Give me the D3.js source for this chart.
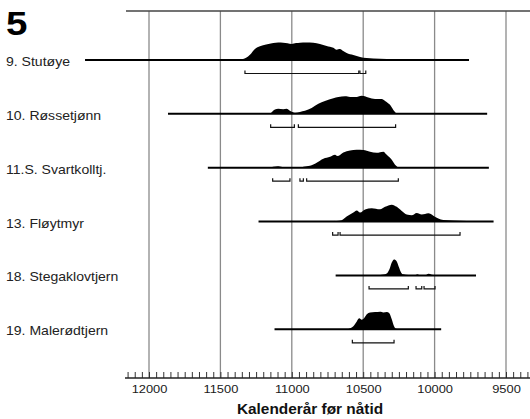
<!DOCTYPE html>
<html>
<head>
<meta charset="utf-8">
<script src="https://cdn.jsdelivr.net/npm/d3@7"></script>
<style>
  html, body { margin: 0; padding: 0; background: #fff; }
  svg { display: block; }
  text { font-family: "Liberation Sans", Arial, Helvetica, sans-serif; }
</style>
</head>
<body>
<svg id="chart" width="530" height="419"></svg>
<script>
// ---------------- DATA ----------------
const panelLabel = "5";
const xTitle = "Kalenderår før nåtid";
const sites = ["9. Stutøye", "10. Røssetjønn", "11.S. Svartkolltj.", "13. Fløytmyr", "18. Stegaklovtjern", "19. Malerødtjern"];
const majorTicks = [12000, 11500, 11000, 10500, 10000, 9500];
const minorTickRange = [12150, 9300, 50];

// full extent of each calibration baseline (cal BP)
const extents = [
  [12448, 9759],
  [11867, 9632],
  [11588, 9620],
  [11233, 9587],
  [10693, 9710],
  [11121, 9954]
];

// probability distributions [cal BP, relative probability]
const dens0 = [[11400,0],[11350,0.04],[11320,0.12],[11293,0.29],[11258,0.61],[11223,0.76],[11180,0.86],[11130,0.94],[11095,0.97],[11060,0.96],[11030,0.93],[11001,0.89],[10970,0.94],[10943,0.96],[10900,0.97],[10849,0.96],[10803,0.89],[10756,0.78],[10709,0.68],[10686,0.57],[10663,0.61],[10640,0.5],[10616,0.39],[10569,0.28],[10522,0.17],[10476,0.11],[10382,0.07],[10289,0.04],[10195,0]];
const dens1 = [[11170,0],[11153,0.02],[11118,0.24],[11095,0.28],[11060,0.26],[11036,0.28],[11013,0.17],[10978,0.06],[10943,0.11],[10908,0.17],[10861,0.33],[10814,0.56],[10768,0.72],[10709,0.87],[10674,0.93],[10627,0.98],[10592,0.94],[10546,0.94],[10511,1.0],[10464,0.91],[10417,0.83],[10370,0.83],[10347,0.72],[10312,0.5],[10289,0.22],[10265,0.03],[10242,0]];
const dens2 = [[11150,0],[11132,0.05],[11100,0.08],[11083,0.07],[11050,0.02],[11000,0.02],[10943,0.02],[10919,0.06],[10873,0.11],[10826,0.28],[10779,0.5],[10732,0.61],[10697,0.72],[10681,0.65],[10639,0.85],[10592,0.96],[10546,1.0],[10499,0.98],[10452,0.89],[10405,0.83],[10359,0.89],[10335,0.72],[10300,0.44],[10277,0.17],[10254,0.03],[10230,0]];
const dens3 = [[10740,0],[10721,0.02],[10651,0.08],[10616,0.28],[10569,0.5],[10545,0.61],[10522,0.5],[10487,0.67],[10440,0.74],[10382,0.68],[10347,0.82],[10300,0.94],[10265,0.82],[10230,0.59],[10195,0.39],[10160,0.35],[10125,0.48],[10090,0.39],[10044,0.46],[10009,0.33],[9974,0.17],[9939,0.09],[9869,0.06],[9775,0.03],[9705,0]];
const dens4 = [[10400,0],[10382,0.02],[10335,0.11],[10317,0.33],[10300,0.72],[10284,0.89],[10265,0.78],[10249,0.44],[10235,0.17],[10219,0.06],[10184,0.02],[10137,0.02],[10121,0.07],[10102,0.02],[10060,0.03],[10044,0.09],[10020,0.04],[9997,0.02],[9974,0]];
const dens5 = [[10620,0],[10604,0.02],[10569,0.17],[10545,0.44],[10527,0.61],[10510,0.53],[10494,0.61],[10475,0.83],[10452,0.94],[10417,0.96],[10382,0.98],[10359,0.94],[10335,0.96],[10317,0.89],[10300,0.56],[10284,0.17],[10270,0.03],[10254,0]];
const densities = [dens0, dens1, dens2, dens3, dens4, dens5];

// 2-sigma ranges [from, to] cal BP
const ranges = [
  [[11328,10531],[10523,10482]],
  [[11148,10982],[10954,10273]],
  [[11134,11013],[10943,10919],[10896,10254]],
  [[10714,10676],[10662,9822]],
  [[10459,10184],[10130,10090],[10074,9997]],
  [[10576,10284]]
];

// ---------------- LAYOUT ----------------
const W = 530, H = 419;
const frameLeft = 126, frameRight = 530, topY = 11, axisY = 378;
const svg = d3.select("#chart");

const x = d3.scaleLinear().domain([12000, 9500]).range([149, 506]);
const row = d3.scalePoint().domain(sites).range([60, 329.3]);
const dy = d3.scaleLinear().domain([0, 1]).range([0, 18]);
const bracketOffset = 13.5, bracketTick = 3;
const textStretch = 1.115;

// vertical grid lines
svg.append("g").selectAll("line").data(majorTicks).join("line")
  .attr("x1", d => x(d)).attr("x2", d => x(d))
  .attr("y1", topY).attr("y2", axisY)
  .attr("stroke", "#8a8a8a").attr("stroke-width", 1.3);

// top frame line
svg.append("line").attr("x1", frameLeft).attr("x2", frameRight)
  .attr("y1", topY).attr("y2", topY)
  .attr("stroke", "#444").attr("stroke-width", 1.5);

// axis
const axis = d3.axisBottom(x)
  .tickValues(d3.range(minorTickRange[0], minorTickRange[1] - 1, -minorTickRange[2]))
  .tickSize(-6)
  .tickPadding(7)
  .tickFormat(d => majorTicks.includes(d) ? String(d) : "");
const gAxis = svg.append("g").attr("transform", `translate(0,${axisY})`).call(axis);
gAxis.select(".domain").remove();
gAxis.selectAll(".tick line").attr("stroke", "#333").attr("stroke-width", 1);
gAxis.selectAll(".tick text")
  .attr("fill", "#1a1a1a")
  .attr("font-size", 11.5)
  .attr("font-family", "Liberation Sans, Arial, sans-serif")
  .attr("transform", "scale(1.12,1)");
svg.append("line").attr("x1", 125).attr("x2", frameRight)
  .attr("y1", axisY).attr("y2", axisY)
  .attr("stroke", "#222").attr("stroke-width", 1.6);

// axis title
svg.append("text")
  .attr("transform", `translate(310,414) scale(1.1,1)`)
  .attr("text-anchor", "middle")
  .attr("font-weight", "bold").attr("font-size", 14)
  .attr("fill", "#111")
  .text(xTitle);

// panel label
svg.append("text")
  .attr("transform", `translate(6,35) scale(1.15,1)`)
  .attr("font-weight", "bold").attr("font-size", 33.5)
  .attr("fill", "#000")
  .text(panelLabel);

// rows
const area = d3.area().curve(d3.curveMonotoneX);
sites.forEach((s, i) => {
  const y0 = row(s);
  const g = svg.append("g");
  // label
  g.append("text")
    .attr("transform", `translate(6,${y0 + 6}) scale(${textStretch},1)`)
    .attr("font-size", 12.6).attr("fill", "#222")
    .text(s);
  // density
  g.append("path")
    .datum(densities[i])
    .attr("d", area.x(d => x(d[0])).y0(y0).y1(d => y0 - dy(d[1])))
    .attr("fill", "#000");
  // baseline
  g.append("line")
    .attr("x1", x(extents[i][0])).attr("x2", x(extents[i][1]))
    .attr("y1", y0).attr("y2", y0)
    .attr("stroke", "#000").attr("stroke-width", 2);
  // brackets
  const by = y0 + bracketOffset;
  g.selectAll("path.br").data(ranges[i]).join("path")
    .attr("class", "br")
    .attr("d", d => `M${x(d[0])},${by - bracketTick}V${by}H${x(d[1])}V${by - bracketTick}`)
    .attr("fill", "none").attr("stroke", "#111").attr("stroke-width", 1.2);
});
</script>
</body>
</html>
